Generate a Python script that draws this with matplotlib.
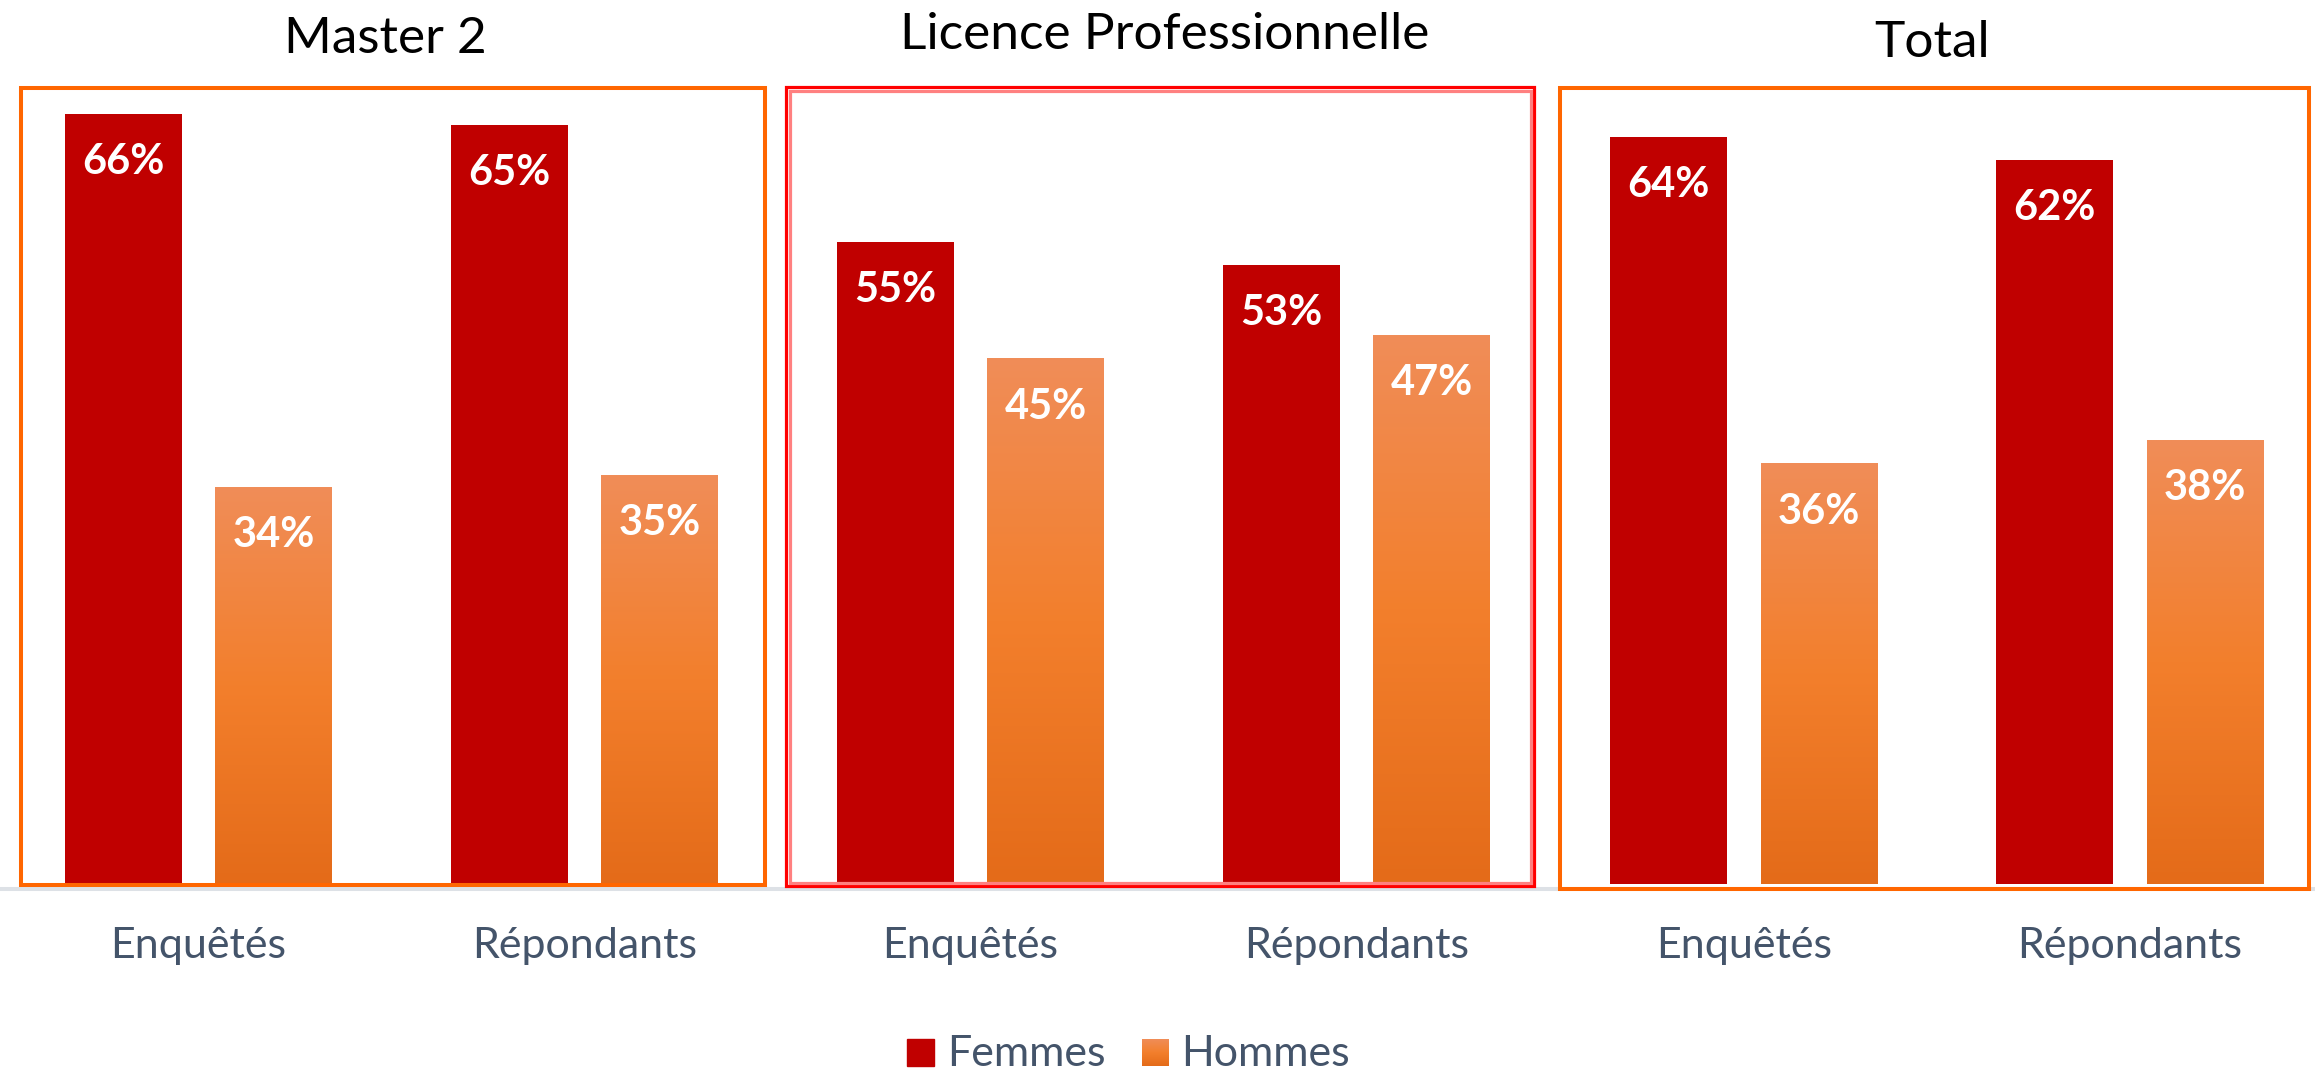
import numpy as np
import matplotlib.pyplot as plt
from matplotlib.patches import Rectangle
from matplotlib.lines import Line2D
from matplotlib.colors import LinearSegmentedColormap

plt.rcParams['font.family'] = ['Lato', 'DejaVu Sans']

# data
panels = ['Master 2', 'Licence Professionnelle', 'Total']
categories = ['Enquêtés', 'Répondants']
femmes_master = [66, 65]
hommes_master = [34, 35]
femmes_licence = [55, 53]
hommes_licence = [45, 47]
femmes_total = [64, 62]
hommes_total = [36, 38]
femmes_all = [femmes_master, femmes_licence, femmes_total]
hommes_all = [hommes_master, hommes_licence, hommes_total]

W, H = 2315, 1072
RED = '#C00000'
TXT = '#44546A'
orange_cmap = LinearSegmentedColormap.from_list(
    'hommes', ['#E46B19', '#F37F2C', '#F08D58'])
grad = np.linspace(0, 1, 256).reshape(-1, 1)


def fx(px):
    return px / W


def fy(py):
    return 1 - py / H


fig = plt.figure(figsize=(W / 100, H / 100), dpi=100)

# light grey category axis line running under all three charts
fig.add_artist(Line2D([fx(2), 1], [fy(889), fy(889)], color='#DDE1E6',
                      lw=2.9, transform=fig.transFigure, zorder=0.5))

centers = [391.5, 1163.5, 1937]
title_pos = [(385, 53), (1165, 49), (1932, 57)]
off, bw = 0.195, 0.303

for k, name in enumerate(panels):
    ax = fig.add_axes([fx(centers[k] - 386), fy(884), 772 / W, 817 / H])
    x = np.arange(len(categories))
    fb = ax.bar(x - off, femmes_all[k], bw, color=RED, zorder=2)
    hb = ax.bar(x + off, hommes_all[k], bw, color='none', zorder=2)
    for p in hb:
        ax.imshow(grad, extent=[p.get_x(), p.get_x() + p.get_width(), 0, p.get_height()],
                  cmap=orange_cmap, origin='lower', aspect='auto', zorder=2)
    for p, v in zip(list(fb) + list(hb), femmes_all[k] + hommes_all[k]):
        ax.text(p.get_x() + p.get_width() / 2, v - 4.1, f'{v}%', ha='center',
                va='center', color='white', fontsize=30, fontweight='bold', zorder=3)
    for i, c in enumerate(categories):
        ax.text(i, -(958 - 884) / 817, c, transform=ax.get_xaxis_transform(),
                ha='center', va='baseline', fontsize=31, color=TXT)
    ax.set_xlim(-0.5, 1.5)
    ax.set_ylim(0, 70)
    ax.axis('off')
    tx, ty = title_pos[k]
    fig.text(fx(tx), fy(ty), name, ha='center', va='baseline', fontsize=37, color='black')


def frame(x0, y0, x1, y1, color, lw):
    fig.add_artist(Rectangle((fx(x0), fy(y1)), (x1 - x0) / W, (y1 - y0) / H,
                             transform=fig.transFigure, fill=False, ec=color,
                             lw=lw, zorder=1))


frame(21, 88, 765, 885, '#FF6600', 2.9)
frame(786, 87, 1534, 886, '#FF0000', 2.3)
frame(789.5, 90.5, 1530.5, 882.5, '#FF8080', 2.3)
frame(1560, 88, 2309, 889, '#FF6600', 2.9)

# legend at the bottom edge
leg_base = 1066
fig.add_artist(Rectangle((fx(907), fy(leg_base)), 27 / W, 27 / H, transform=fig.transFigure,
                         color=RED, zorder=1))
fig.text(fx(947), fy(leg_base), 'Femmes', ha='left', va='baseline', fontsize=31, color=TXT)
lax = fig.add_axes([fx(1142), fy(leg_base), 27 / W, 27 / H])
lax.imshow(grad, cmap=orange_cmap, origin='lower', aspect='auto', extent=[0, 1, 0, 1])
lax.axis('off')
fig.text(fx(1181), fy(leg_base), 'Hommes', ha='left', va='baseline', fontsize=31, color=TXT)

fig.savefig('out.png', dpi=100)
